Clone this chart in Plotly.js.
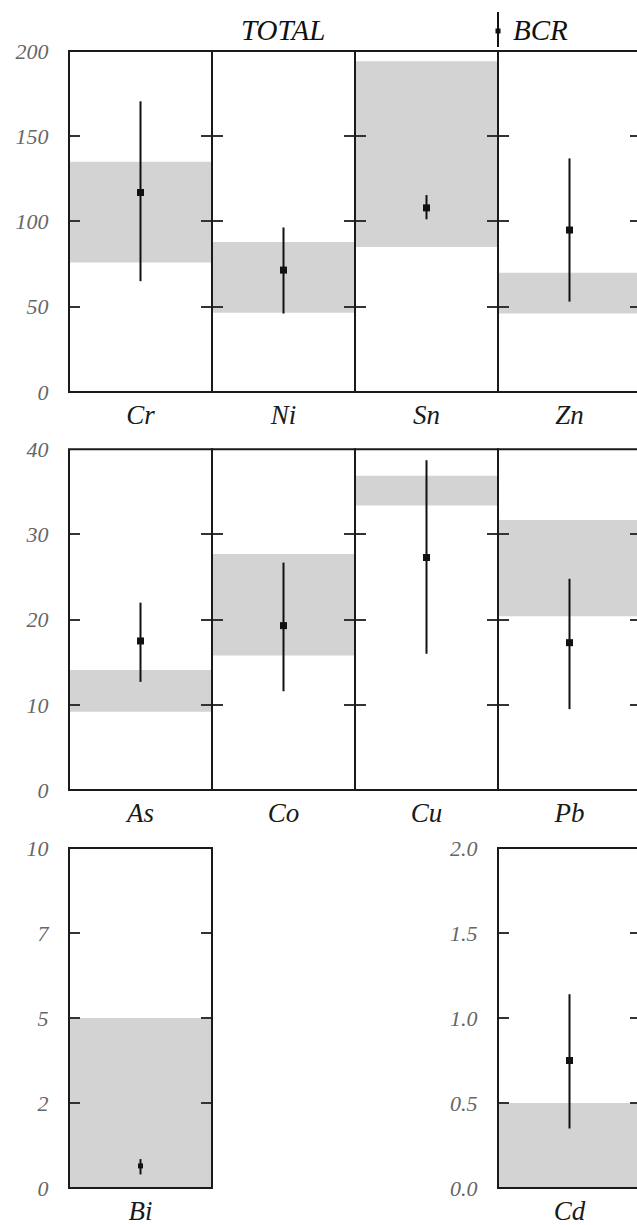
<!DOCTYPE html>
<html>
<head>
<meta charset="utf-8">
<script src="https://cdn.plot.ly/plotly-3.0.1.min.js"></script>
<style>
html,body{margin:0;padding:0;background:#fff;overflow:hidden;}
#chart{width:645px;height:1225px;}
</style>
</head>
<body>
<div id="chart"></div>
<script>
// ---- data ----
var elements  = ['Cr','Ni','Sn','Zn','As','Co','Cu','Pb','Bi','Cd'];
var totalLow  = [76, 46.5, 85, 46, 9.2, 15.8, 33.4, 20.4, 0, 0];
var totalHigh = [135, 88, 194, 70, 14.1, 27.7, 36.9, 31.7, 5, 0.5];
var bcrValue  = [117, 71.5, 108, 95, 17.5, 19.3, 27.3, 17.3, 0.65, 0.75];
var bcrUp     = [53.5, 25, 7.5, 42, 4.5, 7.4, 11.4, 7.5, 0.2, 0.39];
var bcrDown   = [52, 25.5, 6.7, 42, 4.8, 7.7, 11.3, 7.8, 0.25, 0.40];

var row1Ticks = [0, 50, 100, 150, 200];
var row1Text  = ['0', '50', '100', '150', '200'];
var row2Ticks = [0, 10, 20, 30, 40];
var row2Text  = ['0', '10', '20', '30', '40'];
var biTicks   = [0, 2.5, 5, 7.5, 10];
var biText    = ['0', '2', '5', '7', '10'];
var cdTicks   = [0, 0.5, 1.0, 1.5, 2.0];
var cdText    = ['0.0', '0.5', '1.0', '1.5', '2.0'];

// ---- panel arrangement (row, column) ----
var panelRow = [0,0,0,0,1,1,1,1,2,2];
var panelCol = [0,1,2,3,0,1,2,3,0,3];
var rowDomains = [[0.7001, 1], [0.3500, 0.6497], [0, 0.2990]];
var rowRanges = [[0, 200], [0, 40]];
var rowTicks = [[row1Ticks, row1Text], [row2Ticks, row2Text]];

var serif = '"Times New Roman", "Liberation Serif", serif';
var lineCol = '#1a1a1a';

var traces = [];
var layout = {
  width: 645, height: 1225,
  margin: {l: 69, r: 4, t: 51, b: 37},
  paper_bgcolor: '#fff', plot_bgcolor: '#fff',
  showlegend: false,
  annotations: [],
  shapes: []
};

elements.forEach(function(el, i){
  var n = i + 1;
  var sfx = (n === 1 ? '' : String(n));
  var xa = 'x' + sfx, ya = 'y' + sfx;
  traces.push({
    type: 'bar', x: [el], y: [totalHigh[i] - totalLow[i]], base: [totalLow[i]],
    width: [1], marker: {color: '#d3d3d3', line: {width: 0}},
    xaxis: xa, yaxis: ya, name: 'TOTAL', hoverinfo: 'skip'
  });
  traces.push({
    type: 'scatter', mode: 'markers', x: [el], y: [bcrValue[i]],
    marker: {symbol: 'square', size: (el === 'Bi' ? 5 : 7), color: '#111'},
    error_y: {type: 'data', symmetric: false, array: [bcrUp[i]], arrayminus: [bcrDown[i]],
              color: '#111', thickness: 2, width: 0},
    xaxis: xa, yaxis: ya, name: 'BCR', hoverinfo: 'skip'
  });

  var r = panelRow[i], c = panelCol[i];
  var range, tv, tt;
  if (r < 2) { range = rowRanges[r]; tv = rowTicks[r][0]; tt = rowTicks[r][1]; }
  else if (el === 'Bi') { range = [0, 10]; tv = biTicks; tt = biText; }
  else { range = [0, 2]; tv = cdTicks; tt = cdText; }
  var showLabels = (c === 0) || (el === 'Cd');

  layout['xaxis' + sfx] = {
    domain: [c / 4, (c + 1) / 4], anchor: ya, type: 'category',
    range: [-0.5, 0.5], fixedrange: true,
    showline: false, ticks: '', showgrid: false, zeroline: false,
    tickfont: {family: serif, size: 27, color: '#1a1a1a', style: 'italic'},
    ticklabelstandoff: 4
  };
  layout['yaxis' + sfx] = {
    domain: rowDomains[r], anchor: xa, range: range, fixedrange: true,
    showline: true, mirror: 'ticks', linecolor: 'rgba(0,0,0,0)', linewidth: 2,
    ticks: 'inside', ticklen: 11, tickwidth: 2, tickcolor: '#333',
    tickmode: 'array', tickvals: tv, ticktext: tt,
    showticklabels: showLabels,
    showgrid: false, zeroline: false,
    tickfont: {family: serif, size: 22, color: '#666', style: 'italic'},
    ticklabelstandoff: 14
  };
  // panel frame
  layout.shapes.push({
    type: 'rect', xref: xa + ' domain', yref: ya + ' domain',
    x0: 0, x1: 1, y0: 0, y1: 1, layer: 'above',
    line: {color: lineCol, width: 2}, fillcolor: 'rgba(0,0,0,0)'
  });
});

// header: "TOTAL" and BCR legend key
layout.annotations.push({
  text: 'TOTAL', xref: 'paper', yref: 'paper', x: 0.3741, y: 1.0185,
  xanchor: 'center', yanchor: 'middle', showarrow: false,
  font: {family: serif, size: 29, color: '#111', style: 'italic'}
});
layout.annotations.push({
  text: 'BCR', xref: 'paper', yref: 'paper', x: 0.7727, y: 1.0185,
  xanchor: 'left', yanchor: 'middle', showarrow: false,
  font: {family: serif, size: 29, color: '#111', style: 'italic'}
});
layout.shapes.push({
  type: 'line', xref: 'paper', yref: 'paper', x0: 0.75, x1: 0.75, y0: 1.0035, y1: 1.0343,
  line: {color: '#111', width: 2}
});
layout.shapes.push({
  type: 'rect', xref: 'paper', yref: 'paper', x0: 0.7456, x1: 0.7544, y0: 1.0154, y1: 1.0198,
  line: {width: 0}, fillcolor: '#111'
});

Plotly.newPlot('chart', traces, layout, {staticPlot: true, displayModeBar: false});
</script>
</body>
</html>
